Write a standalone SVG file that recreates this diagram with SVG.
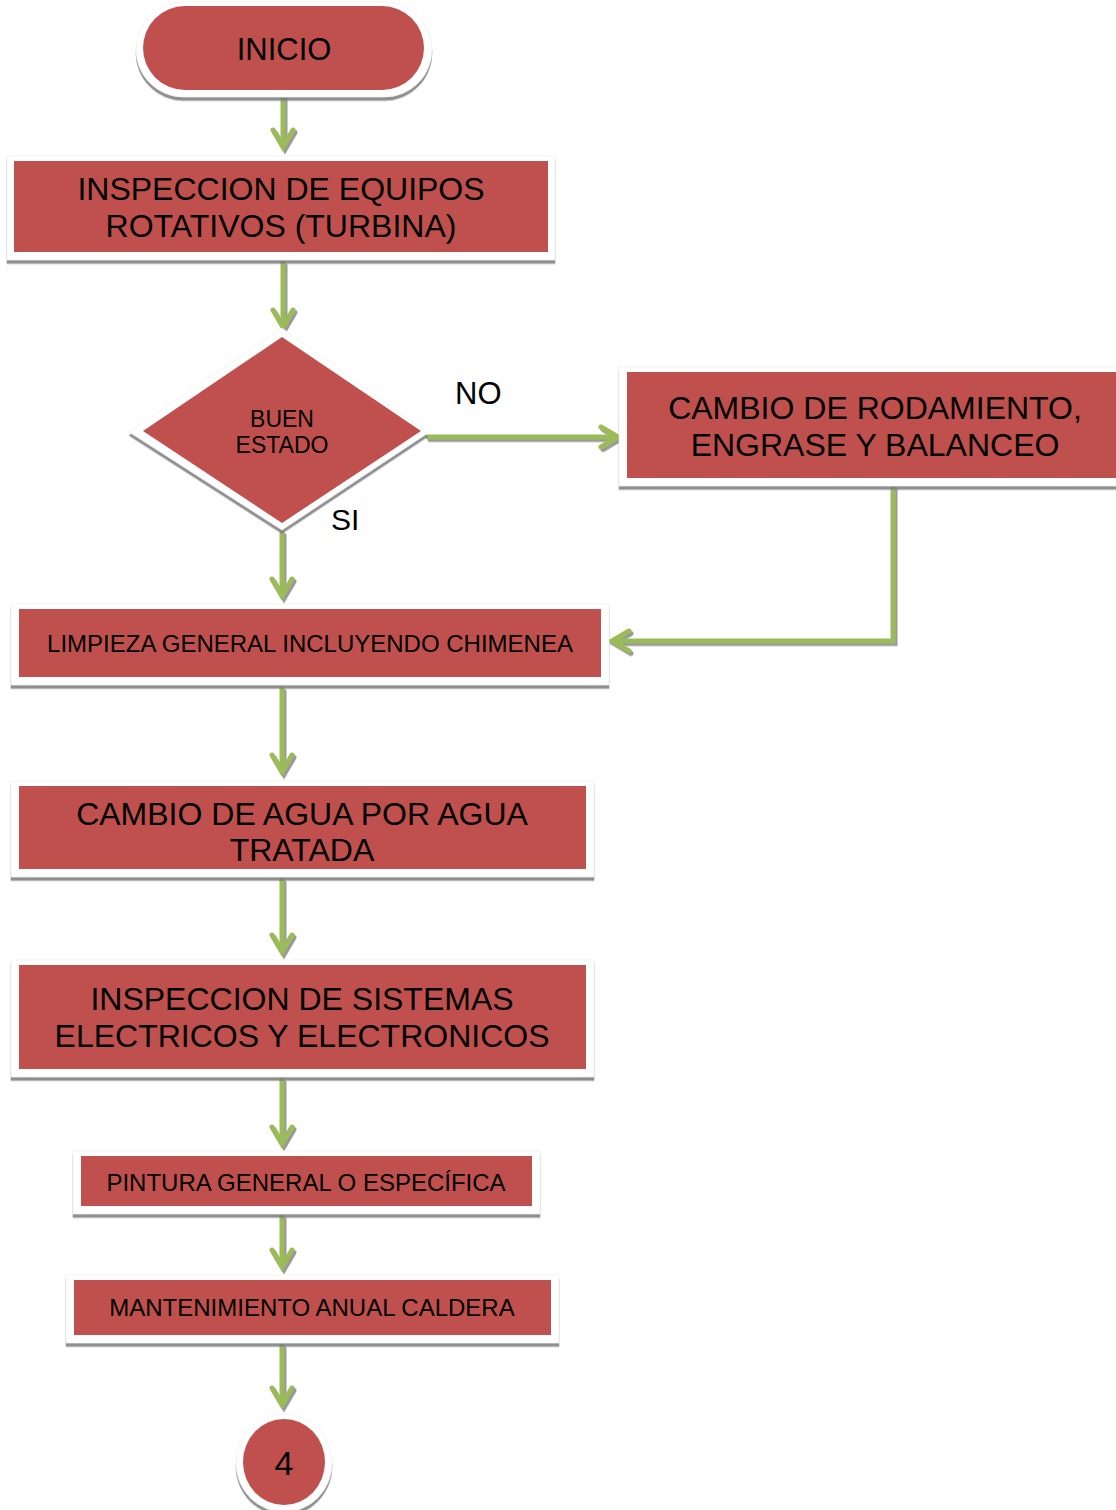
<svg xmlns="http://www.w3.org/2000/svg" width="1116" height="1510" viewBox="0 0 1116 1510">
<defs>
<filter id="ds" filterUnits="userSpaceOnUse" x="0" y="0" width="1116" height="1510">
<feDropShadow dx="0" dy="3.5" stdDeviation="0.6" flood-color="#7a7a7a" flood-opacity="0.85"/>
</filter>
<filter id="as" filterUnits="userSpaceOnUse" x="0" y="0" width="1116" height="1510">
<feDropShadow dx="2" dy="2.5" stdDeviation="0.6" flood-color="#7f7f7f" flood-opacity="0.8"/>
</filter>
<style>
.frame{fill:#ffffff;stroke:#ececec;stroke-width:0.6;filter:url(#ds)}
.red{fill:#C0504D}
.t{font-family:"Liberation Sans",Arial,sans-serif;fill:#000000;text-anchor:middle}
.lbl{font-family:"Liberation Sans",Arial,sans-serif;fill:#000000}
.conn{fill:none;stroke:#9BBB59;stroke-width:5;stroke-linecap:round;stroke-linejoin:miter}
</style>
</defs>
<rect x="0" y="0" width="1116" height="1510" fill="#ffffff"/>

<g id="connectors" filter="url(#as)">
<path class="conn" d="M283,97 V146 M273,130 L283,147 L293,130"/>
<path class="conn" d="M283,263 V326 M273,310 L283,327 L293,310"/>
<path class="conn" d="M428,437 H617 M601,427 L618,437 L601,447"/>
<path class="conn" d="M282,533 V596 M272,579 L282,596 L292,579"/>
<path class="conn" d="M893,488 V641 H612 M629,631 L612,641 L629,651"/>
<path class="conn" d="M282,689 V772 M272,755 L282,772 L292,755"/>
<path class="conn" d="M282,880 V952 M272,935 L282,952 L292,935"/>
<path class="conn" d="M282,1080 V1144 M272,1127 L282,1144 L292,1127"/>
<path class="conn" d="M282,1217 V1267 M272,1250 L282,1267 L292,1250"/>
<path class="conn" d="M282,1346 V1405 M272,1388 L282,1405 L292,1388"/>
</g>

<g id="inicio">
<rect class="frame" x="136" y="2" width="296" height="95" rx="47.5"/>
<rect class="red" x="143" y="6" width="281" height="84" rx="42"/>
<text class="t" x="284" y="60" font-size="31">INICIO</text>
</g>

<g id="inspeccion-equipos">
<rect class="frame" x="7" y="156" width="548" height="104"/>
<rect class="red" x="14" y="161" width="534" height="91"/>
<text class="t" x="281" y="200" font-size="32">INSPECCION DE EQUIPOS</text>
<text class="t" x="281" y="237" font-size="32">ROTATIVOS (TURBINA)</text>
</g>

<g id="buen-estado">
<polygon class="frame" points="282,328 428,433 282,530 129,432"/>
<polygon class="red" points="282,337 421,431 282,523 143,431"/>
<text class="t" x="282" y="427" font-size="23">BUEN</text>
<text class="t" x="282" y="453" font-size="23">ESTADO</text>
</g>

<g id="labels">
<text class="lbl" x="455" y="404" font-size="31">NO</text>
<text class="lbl" x="331" y="530" font-size="30">SI</text>
</g>

<g id="cambio-rodamiento">
<rect class="frame" x="619" y="367" width="510" height="119"/>
<rect class="red" x="627" y="372" width="495" height="106"/>
<text class="t" x="875" y="419" font-size="32">CAMBIO DE RODAMIENTO,</text>
<text class="t" x="875" y="456" font-size="32">ENGRASE Y BALANCEO</text>
</g>

<g id="limpieza">
<rect class="frame" x="11" y="604" width="598" height="81"/>
<rect class="red" x="19" y="609" width="582" height="68"/>
<text class="t" x="310" y="652" font-size="24">LIMPIEZA GENERAL INCLUYENDO CHIMENEA</text>
</g>

<g id="cambio-agua">
<rect class="frame" x="11" y="781" width="583" height="96"/>
<rect class="red" x="19" y="786" width="567" height="83"/>
<text class="t" x="302" y="825" font-size="32">CAMBIO DE AGUA POR AGUA</text>
<text class="t" x="302" y="861" font-size="32">TRATADA</text>
</g>

<g id="inspeccion-sistemas">
<rect class="frame" x="11" y="960" width="583" height="117"/>
<rect class="red" x="19" y="965" width="567" height="104"/>
<text class="t" x="302" y="1010" font-size="32">INSPECCION DE SISTEMAS</text>
<text class="t" x="302" y="1047" font-size="32">ELECTRICOS Y ELECTRONICOS</text>
</g>

<g id="pintura">
<rect class="frame" x="73" y="1151" width="467" height="63"/>
<rect class="red" x="81" y="1156" width="451" height="50"/>
<text class="t" x="306" y="1191" font-size="24">PINTURA GENERAL O ESPECÍFICA</text>
</g>

<g id="mantenimiento">
<rect class="frame" x="66" y="1275" width="493" height="68"/>
<rect class="red" x="74" y="1280" width="477" height="55"/>
<text class="t" x="312" y="1316" font-size="24">MANTENIMIENTO ANUAL CALDERA</text>
</g>

<g id="conector-4">
<ellipse class="frame" cx="284" cy="1463" rx="48" ry="49"/>
<ellipse class="red" cx="284" cy="1462" rx="41" ry="43"/>
<text class="t" x="284" y="1475" font-size="34">4</text>
</g>
</svg>
